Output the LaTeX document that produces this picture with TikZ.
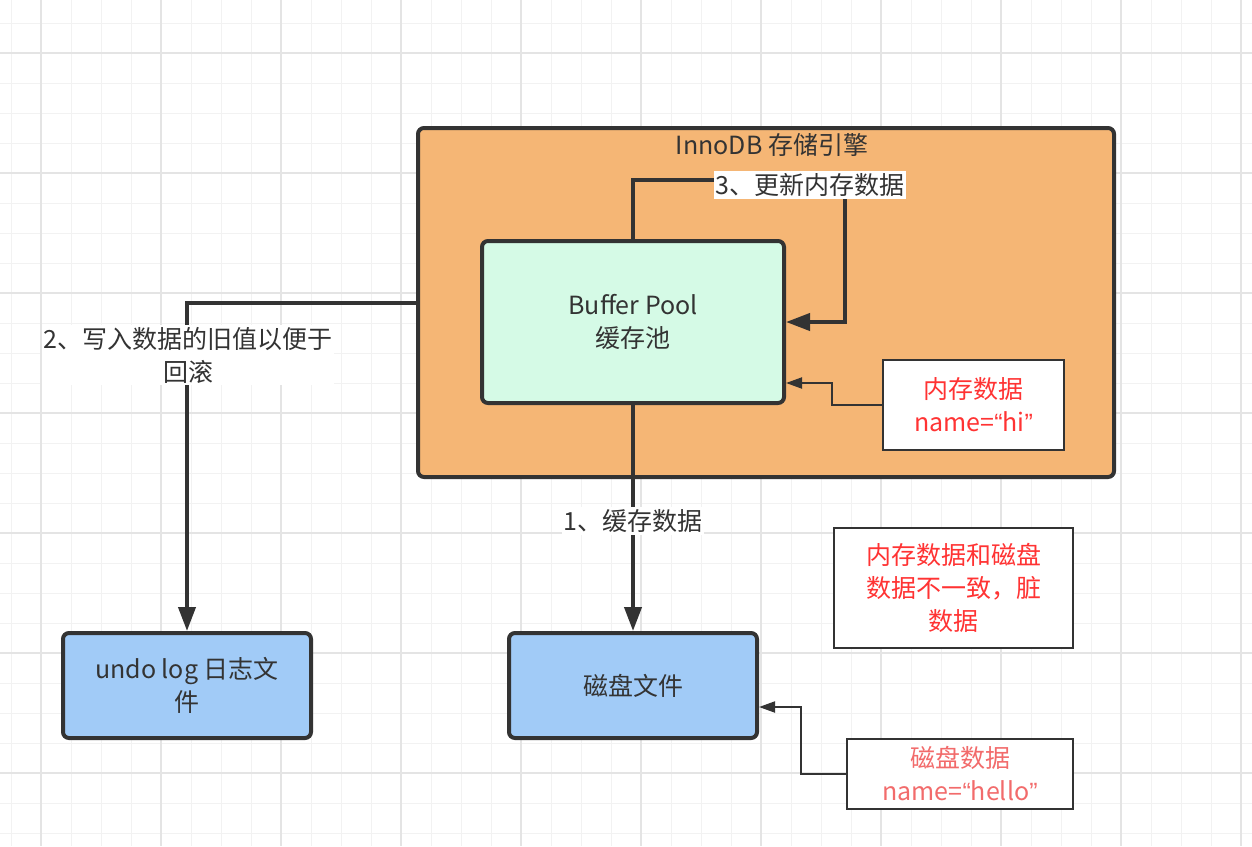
\documentclass[tikz,border=0pt]{standalone}
\usepackage{fontspec}
\setmainfont{Noto Sans CJK SC}
\newfontfamily\quotefont{Liberation Sans}
\usepackage{tikz}
\usetikzlibrary{arrows.meta,positioning}
\definecolor{gridminor}{HTML}{F2F2F2}
\definecolor{gridmajor}{HTML}{E4E4E4}
\definecolor{engine}{HTML}{F5B675}
\definecolor{poolgreen}{HTML}{D5FAE6}
\definecolor{fileblue}{HTML}{A1CBF7}
\definecolor{ink}{HTML}{333333}
\definecolor{memred}{HTML}{FF3333}
\definecolor{diskred}{HTML}{F26B6B}

\begin{document}
\begin{tikzpicture}[x=1pt,y=-1pt,
                    font=\fontsize{25}{33}\selectfont,text=ink,
                    main box/.style={rectangle,rounded corners=6pt,draw=ink,line width=4pt,align=center,text=ink},
                    note box/.style={rectangle,draw=ink,line width=2pt,fill=white,align=center,text=memred},
                    step label/.style={fill=white,inner sep=2pt,align=center,text=ink},
                    main arrow/.style={draw=ink,line width=4pt,-{Triangle[length=24pt,width=17pt]}},
                    thin arrow/.style={draw=ink,line width=2pt,-{Triangle[length=16pt,width=11pt]}}]

  \useasboundingbox (0,0) rectangle (1252,846);
  \fill[white] (0,0) rectangle (1252,846);
  \foreach \x in {11,41,...,1241} \draw[gridminor,line width=1pt] (\x,0) -- (\x,846);
  \foreach \y in {23,53,...,833} \draw[gridminor,line width=1pt] (0,\y) -- (1252,\y);
  \foreach \x in {41,161,...,1241} \draw[gridmajor,line width=1.5pt] (\x,0) -- (\x,846);
  \foreach \y in {53,173,...,773} \draw[gridmajor,line width=1.5pt] (0,\y) -- (1252,\y);

  \node[main box,fill=engine,minimum width=696pt,minimum height=349pt] (innodb) at (766,302.5) {};
  \node (title) at (772,145) {InnoDB 存储引擎};
  \node[main box,fill=poolgreen,minimum width=302pt,minimum height=162pt] (pool) at (633,322) {Buffer Pool\\缓存池};
  \node[note box,minimum width=181pt,minimum height=90pt] (mem) at (973.5,405) {内存数据\\name={\quotefont “}hi{\quotefont ”}};
  \node[main box,fill=fileblue,minimum width=248pt,minimum height=105pt] (undo) at (187,685.5) {undo log 日志文\\件};
  \node[main box,fill=fileblue,minimum width=248pt,minimum height=105pt] (disk) at (633,685.5) {磁盘文件};
  \node[note box,minimum width=239pt,minimum height=120pt] (dirty) at (953.5,588) {内存数据和磁盘\\数据不一致，脏\\数据};
  \node[note box,text=diskred,minimum width=226pt,minimum height=70pt] (diskdata) at (960,774) {磁盘数据\\name={\quotefont “}hello{\quotefont ”}};

  \coordinate (turn3) at (845,180);
  \coordinate (memturn) at (832,383);
  \coordinate (diskturn) at (801,707);

  \draw[main arrow] (pool.south) -- (disk.north);
  \draw[main arrow] (innodb.west) -| (undo.north);
  \draw[main arrow] (pool.north) |- (turn3) |- (pool.east);
  \draw[thin arrow] (mem.west) -| (memturn) -- (pool.east |- memturn);
  \draw[thin arrow] (diskdata.west) -| (diskturn) -- (disk.east |- diskturn);

  \node[step label] (lbl1) at (633,521) {1、缓存数据};
  \node[step label] (lbl2) at (188,355) {2、写入数据的旧值以便于\\回滚};
  \node[step label] (lbl3) at (810,185) {3、更新内存数据};
\end{tikzpicture}
\end{document}
